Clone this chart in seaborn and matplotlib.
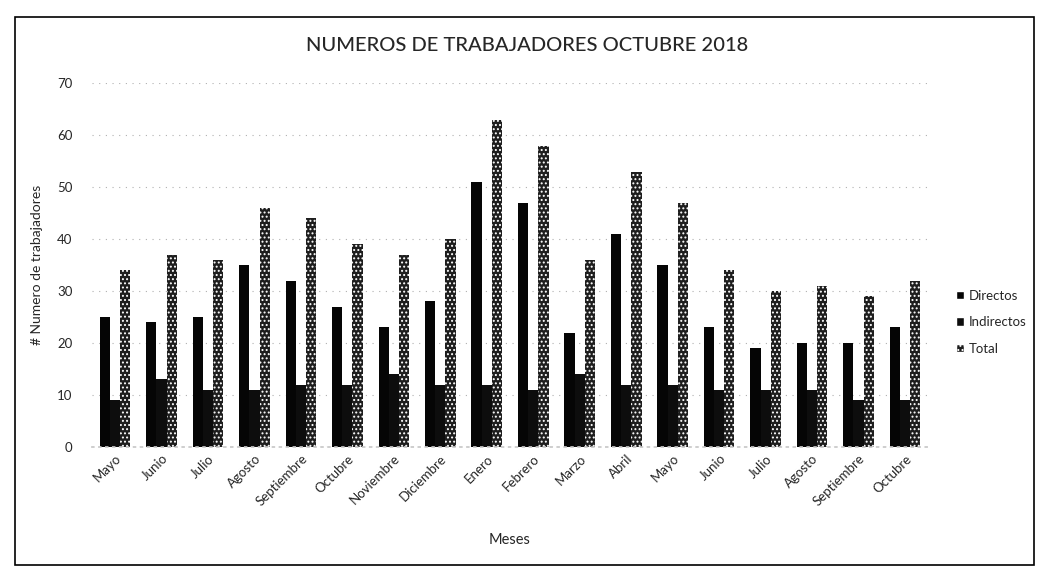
import matplotlib
matplotlib.use("Agg")
import matplotlib.pyplot as plt
from matplotlib.patches import Rectangle
import seaborn as sns
import pandas as pd

# Monthly headcount, May 2017 - October 2018
meses = ["Mayo", "Junio", "Julio", "Agosto", "Septiembre", "Octubre", "Noviembre",
         "Diciembre", "Enero", "Febrero", "Marzo", "Abril", "Mayo", "Junio",
         "Julio", "Agosto", "Septiembre", "Octubre"]
directos = [25, 24, 25, 35, 32, 27, 23, 28, 51, 47, 22, 41, 35, 23, 19, 20, 20, 23]
indirectos = [9, 13, 11, 11, 12, 12, 14, 12, 12, 11, 14, 12, 12, 11, 11, 11, 9, 9]
total = [34, 37, 36, 46, 44, 39, 37, 40, 63, 58, 36, 53, 47, 34, 30, 31, 29, 32]

series = ["Directos", "Indirectos", "Total"]
colores = ["#050505", "#0d0d0d", "#1e1e1e"]

# one unique key per month so the repeated month names stay separate bars
claves = [f"{i:02d}" for i in range(len(meses))]
df = pd.DataFrame({
    "clave": claves * 3,
    "serie": [s for s in series for _ in meses],
    "valor": directos + indirectos + total,
})

sns.set_theme(style="white")
plt.rcParams["font.family"] = ["Lato", "DejaVu Sans"]
plt.rcParams["hatch.color"] = "white"
plt.rcParams["hatch.linewidth"] = 0.9

fig = plt.figure(figsize=(10.43, 5.70), dpi=100)
ax = fig.add_axes([0.088, 0.216, 0.802, 0.638])

sns.barplot(data=df, x="clave", y="valor", hue="serie", order=claves,
            hue_order=series, palette=colores, width=0.66, saturation=1,
            linewidth=0, ax=ax, legend=False)

# speckled fill for the Total bars
n = len(meses)
for patch in ax.patches[2 * n:3 * n]:
    patch.set_hatch("....")

ax.set_ylim(0, 70)
ax.set_xlim(-0.5, n - 0.5)
ax.set_yticks(range(0, 71, 10))
ax.yaxis.grid(True, color="#b0b0b0", linestyle=(0, (1, 5)), linewidth=0.8)
ax.set_axisbelow(True)
for side in ["top", "right", "left"]:
    ax.spines[side].set_visible(False)
ax.spines["bottom"].set_color("#c8c8c8")
ax.spines["bottom"].set_linestyle((0, (1, 3)))

ax.set_xticks(range(n))
ax.set_xticklabels(meses, rotation=45, ha="right", rotation_mode="anchor", fontsize=9.5)
ax.tick_params(axis="y", labelsize=9.5, pad=14, length=0)
ax.tick_params(axis="x", length=0, pad=4)

ax.set_xlabel("Meses", fontsize=10.5, labelpad=18)
ax.set_ylabel("# Numero de trabajadores", fontsize=10, labelpad=10)
fig.suptitle("NUMEROS DE TRABAJADORES OCTUBRE 2018", fontsize=14.5, y=0.935, x=0.505,
             fontweight="medium")

handles = [Rectangle((0, 0), 1, 1, facecolor=colores[0]),
           Rectangle((0, 0), 1, 1, facecolor=colores[1]),
           Rectangle((0, 0), 1, 1, facecolor=colores[2], hatch="....")]
fig.legend(handles, series, loc="center left", bbox_to_anchor=(0.905, 0.435),
           frameon=False, fontsize=9.5, handlelength=0.6, handleheight=0.6,
           handletextpad=0.4, labelspacing=1.1)

# outer chart frame
fig.patches.append(Rectangle((0.014, 0.008), 0.977, 0.962, transform=fig.transFigure,
                             fill=False, edgecolor="black", linewidth=1.2))

fig.savefig("out.png", dpi=100)
